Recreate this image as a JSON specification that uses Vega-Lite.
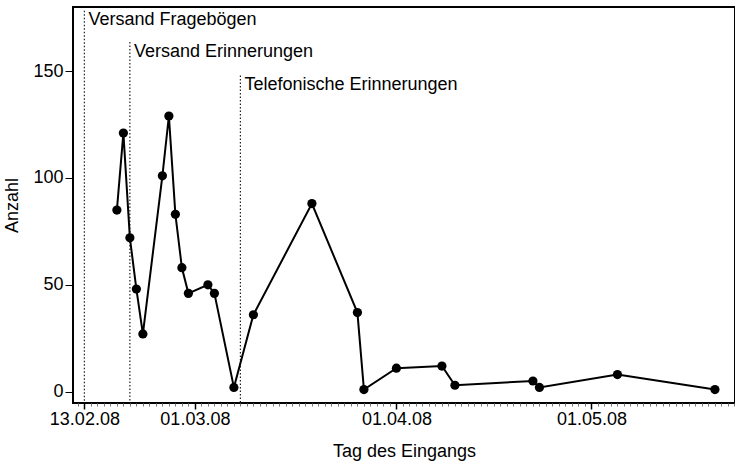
{
  "$schema": "https://vega.github.io/schema/vega-lite/v6.json",
  "width": 662,
  "height": 396,
  "autosize": {"type": "none"},
  "padding": {"left": 73, "top": 7, "right": 0, "bottom": 61},
  "background": "white",
  "config": {
    "font": "Liberation Sans",
    "view": {"stroke": "#000", "strokeWidth": 2},
    "axis": {
      "labelFont": "Liberation Sans",
      "titleFont": "Liberation Sans",
      "labelFontSize": 18,
      "titleFontSize": 18,
      "titleFontWeight": "normal",
      "labelColor": "#000",
      "titleColor": "#000",
      "tickColor": "#000",
      "domain": false,
      "grid": false
    }
  },
  "datasets": {
    "counts": [
      {"date": "2008-02-18", "n": 85},
      {"date": "2008-02-19", "n": 121},
      {"date": "2008-02-20", "n": 72},
      {"date": "2008-02-21", "n": 48},
      {"date": "2008-02-22", "n": 27},
      {"date": "2008-02-25", "n": 101},
      {"date": "2008-02-26", "n": 129},
      {"date": "2008-02-27", "n": 83},
      {"date": "2008-02-28", "n": 58},
      {"date": "2008-02-29", "n": 46},
      {"date": "2008-03-03", "n": 50},
      {"date": "2008-03-04", "n": 46},
      {"date": "2008-03-07", "n": 2},
      {"date": "2008-03-10", "n": 36},
      {"date": "2008-03-19", "n": 88},
      {"date": "2008-03-26", "n": 37},
      {"date": "2008-03-27", "n": 1},
      {"date": "2008-04-01", "n": 11},
      {"date": "2008-04-08", "n": 12},
      {"date": "2008-04-10", "n": 3},
      {"date": "2008-04-22", "n": 5},
      {"date": "2008-04-23", "n": 2},
      {"date": "2008-05-05", "n": 8},
      {"date": "2008-05-20", "n": 1}
    ],
    "events": [
      {"date": "2008-02-13", "top": 178.3, "label": "Versand Fragebögen"},
      {"date": "2008-02-20", "top": 163.6, "label": "Versand Erinnerungen"},
      {"date": "2008-03-08", "top": 148, "label": "Telefonische Erinnerungen"}
    ]
  },
  "encoding": {
    "x": {
      "field": "date",
      "type": "temporal",
      "title": "Tag des Eingangs",
      "scale": {
        "type": "utc",
        "domain": [
          {"year": 2008, "month": 2, "date": 11, "hours": 6, "utc": true},
          {"year": 2008, "month": 5, "date": 23, "hours": 2, "utc": true}
        ],
        "nice": false
      },
      "axis": {
        "orient": "bottom",
        "tickCount": {"interval": "day", "step": 1},
        "labelOverlap": false,
        "labelFlush": false,
        "labelPadding": 1,
        "titlePadding": 14,
        "labelExpr": "(utcdate(datum.value) == 1 || (utcmonth(datum.value) == 1 && utcdate(datum.value) == 13)) ? utcFormat(datum.value, '%d.%m.%y') : ''",
        "tickSize": {"condition": {"test": "utcdate(datum.value) == 1 || (utcmonth(datum.value) == 1 && utcdate(datum.value) == 13)", "value": 6}, "value": 3},
        "tickWidth": {"condition": {"test": "utcdate(datum.value) == 1 || (utcmonth(datum.value) == 1 && utcdate(datum.value) == 13)", "value": 1.5}, "value": 1},
        "tickColor": {"condition": {"test": "utcdate(datum.value) == 1 || (utcmonth(datum.value) == 1 && utcdate(datum.value) == 13)", "value": "#000"}, "value": "#777"}
      }
    }
  },
  "layer": [
    {
      "data": {"name": "events"},
      "mark": {"type": "rule", "strokeDash": [1.5, 2], "color": "#222", "strokeWidth": 1.2},
      "encoding": {
        "y": {
          "field": "top",
          "type": "quantitative",
          "title": "Anzahl",
          "scale": {"domain": [-5.3, 180], "nice": false, "zero": false},
          "axis": {"values": [0, 50, 100, 150], "tickSize": 8, "labelPadding": 2, "titlePadding": 11}
        },
        "y2": {"datum": -5.3}
      }
    },
    {
      "data": {"name": "events"},
      "mark": {"type": "text", "align": "left", "baseline": "alphabetic", "dx": 4, "dy": 14.5, "fontSize": 18, "color": "#000", "font": "Liberation Sans"},
      "encoding": {
        "y": {"field": "top", "type": "quantitative"},
        "text": {"field": "label"}
      }
    },
    {
      "data": {"name": "counts"},
      "mark": {"type": "line", "color": "#000", "strokeWidth": 2},
      "encoding": {
        "y": {"field": "n", "type": "quantitative"}
      }
    },
    {
      "data": {"name": "counts"},
      "mark": {"type": "point", "filled": true, "shape": "circle", "size": 85, "color": "#000", "opacity": 1},
      "encoding": {
        "y": {"field": "n", "type": "quantitative"}
      }
    }
  ]
}
